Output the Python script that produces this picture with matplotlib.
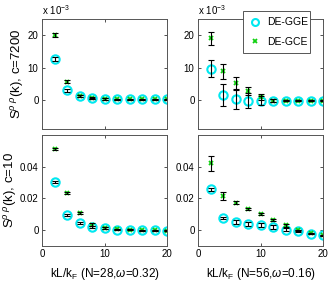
import matplotlib
matplotlib.use("Agg")
import matplotlib.pyplot as plt
from matplotlib.patches import Rectangle
from matplotlib.lines import Line2D
import numpy as np

plt.rcParams['font.family'] = ['Liberation Sans', 'DejaVu Sans']
plt.rcParams['mathtext.fontset'] = 'custom'
plt.rcParams['mathtext.rm'] = 'Liberation Sans'
plt.rcParams['mathtext.it'] = 'Liberation Sans:italic'

k = [2, 4, 6, 8, 10, 12, 14, 16, 18, 20]

# top-left (x 1e-3), c=7200, N=28
tl_gge = [12.5, 3.0, 1.2, 0.5, 0.3, 0.2, 0.2, 0.2, 0.2, 0.2]
tl_gge_err = [0.6, 0.5, 0.3, 0.2, 0.2, 0.1, 0.1, 0.1, 0.1, 0.1]
tl_gce = [20.0, 5.6, 1.3, 0.6, 0.3, 0.2, 0.2, 0.2, 0.2, 0.2]
tl_gce_err = [0.6, 0.5, 0.3, 0.2, 0.2, 0.1, 0.1, 0.1, 0.1, 0.1]

# top-right (x 1e-3), c=7200, N=56
tr_gge = [9.6, 1.5, 0.3, -0.2, -0.2, -0.2, -0.2, -0.2, -0.2, -0.2]
tr_gge_err = [2.6, 3.3, 3.0, 2.4, 1.5, 0.4, 0.2, 0.2, 0.2, 0.2]
tr_gce = [19.1, 8.8, 5.1, 2.7, 0.9, -0.2, -0.2, -0.2, -0.2, -0.2]
tr_gce_err = [2.0, 2.3, 1.9, 1.3, 1.0, 0.4, 0.2, 0.2, 0.2, 0.2]

# bottom-left, c=10, N=28
bl_gge = [0.0305, 0.0097, 0.0044, 0.0021, 0.0013, 0.0004, 0.0002, 0.0, -0.0002, -0.0004]
bl_gge_err = [0.0006, 0.0006, 0.0005, 0.0005, 0.0004, 0.0004, 0.0003, 0.0003, 0.0003, 0.0003]
bl_gce = [0.051, 0.0234, 0.0107, 0.0034, 0.0013, 0.0005, 0.0002, 0.0, -0.0002, -0.0004]
bl_gce_err = [0.0006, 0.0006, 0.0006, 0.0008, 0.0005, 0.0004, 0.0003, 0.0003, 0.0003, 0.0003]

# bottom-right, c=10, N=56
br_gge = [0.0258, 0.0076, 0.0051, 0.0038, 0.0032, 0.0019, 0.0002, -0.0006, -0.0023, -0.0032]
br_gge_err = [0.0008, 0.0008, 0.0012, 0.0015, 0.0015, 0.0012, 0.001, 0.0005, 0.0004, 0.0004]
br_gce = [0.0423, 0.0216, 0.0173, 0.0135, 0.0101, 0.0063, 0.003, -0.0002, -0.002, -0.0032]
br_gce_err = [0.0047, 0.0026, 0.0008, 0.0006, 0.0006, 0.0008, 0.0008, 0.0005, 0.0004, 0.0004]

cyan = '#00e8f0'
green = '#10d010'

fig = plt.figure(figsize=(3.32, 2.91), dpi=100)
W, H = 332, 291
def pos(x0, y0, x1, y1):
    return [x0 / W, 1 - y1 / H, (x1 - x0) / W, (y1 - y0) / H]

axes = {
    'tl': fig.add_axes(pos(42, 19, 167, 129)),
    'tr': fig.add_axes(pos(198, 19, 323, 129)),
    'bl': fig.add_axes(pos(42, 135, 167, 246)),
    'br': fig.add_axes(pos(198, 135, 323, 246)),
}

data = {
    'tl': (tl_gge, tl_gge_err, tl_gce, tl_gce_err),
    'tr': (tr_gge, tr_gge_err, tr_gce, tr_gce_err),
    'bl': (bl_gge, bl_gge_err, bl_gce, bl_gce_err),
    'br': (br_gge, br_gge_err, br_gce, br_gce_err),
}

for key, ax in axes.items():
    g, ge, c, ce = data[key]
    l1, = ax.plot(k, g, 'o', mfc='none', mec=cyan, mew=1.5, ms=6, label='DE-GGE')
    l2, = ax.plot(k, c, 'x', color=green, mew=1.3, ms=3.5, label='DE-GCE')
    ax.errorbar(k, g, yerr=ge, fmt='none', ecolor='black', elinewidth=0.8, capsize=2.5, capthick=0.8)
    ax.errorbar(k, c, yerr=ce, fmt='none', ecolor='black', elinewidth=0.8, capsize=2.5, capthick=0.8)
    ax.set_xlim(0, 20)
    ax.set_xticks([0, 10, 20])
    ax.tick_params(direction='in', length=2.5, width=0.6, labelsize=7, top=True, right=True, pad=2.5, colors='#333333', labelcolor='black')
    for s in ax.spines.values():
        s.set_color('#555555')
        s.set_linewidth(0.7)
    if key in ('tl', 'tr'):
        ax.set_ylim(-9, 25)
        ax.set_yticks([0, 10, 20])
        ax.set_xticklabels([])
        ax.text(0.0, 1.02, r'x 10$^{-3}$', transform=ax.transAxes, fontsize=7, ha='left', va='bottom')
    else:
        ax.set_ylim(-0.01, 0.06)
        ax.set_yticks([0, 0.02, 0.04])
        ax.set_yticklabels(['0', '0.02', '0.04'])

axes['tl'].set_ylabel(r'S$^{\rho\ \rho}$(k), c=7200', fontsize=9.5, labelpad=1)
axes['bl'].set_ylabel(r'S$^{\rho\ \rho}$(k), c=10', fontsize=9.5, labelpad=0.5)
axes['bl'].set_xlabel(r'kL/k$_{\rm F}$ (N=28,$\omega$=0.32)', fontsize=8.5, labelpad=5)
axes['br'].set_xlabel(r'kL/k$_{\rm F}$ (N=56,$\omega$=0.16)', fontsize=8.5, labelpad=5)

# legend box drawn manually (figure pixel coordinates)
fig.patches.append(Rectangle((243 / W, 1 - 53 / H), (310 - 243) / W, (53 - 11) / H,
                             transform=fig.transFigure, facecolor='white',
                             edgecolor='#555555', linewidth=0.7, zorder=5))
h1 = Line2D([], [], ls='none', marker='o', mfc='none', mec=cyan, mew=1.5, ms=5)
h2 = Line2D([], [], ls='none', marker='x', color=green, mew=1.3, ms=3.5)
leg = fig.legend(handles=[h1, h2], labels=['DE-GGE', 'DE-GCE'], loc='center left',
                 bbox_to_anchor=(250 / W, 1 - 32 / H), bbox_transform=fig.transFigure,
                 fontsize=7.5, frameon=False, handlelength=1.0, handletextpad=0.6,
                 borderpad=0.0, borderaxespad=0.0, labelspacing=0.9)
leg.set_zorder(6)

fig.savefig('out.png', dpi=100)
